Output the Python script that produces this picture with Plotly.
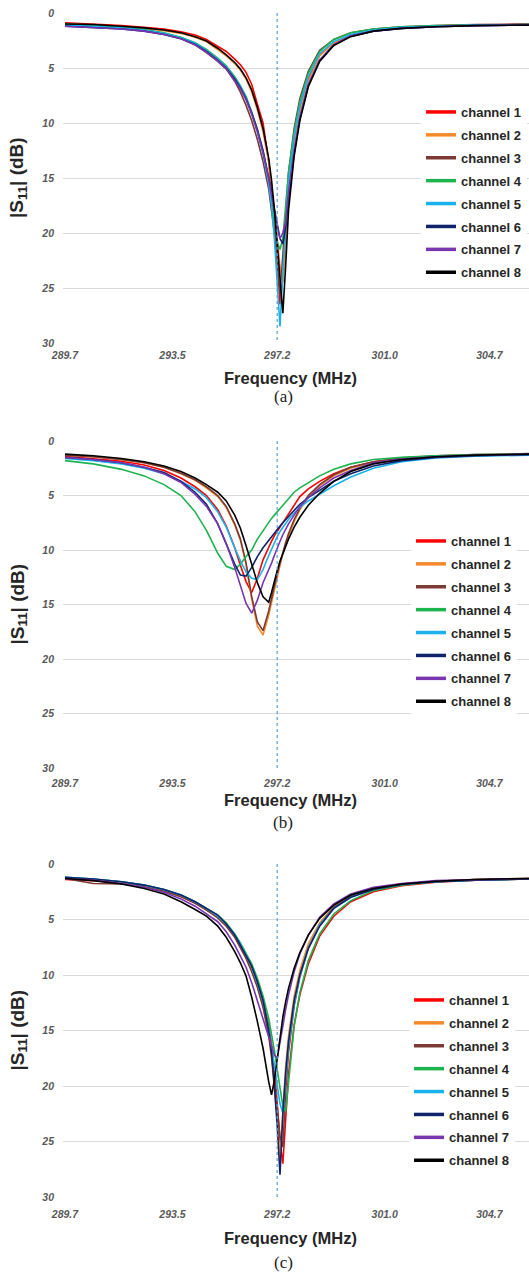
import plotly.graph_objects as go

# ---------------- data ----------------
FREQ = [289.7, 290.7, 291.7, 292.5, 293.2, 293.8, 294.3, 294.7, 295.1, 295.4,
        295.7, 295.9, 296.1, 296.3, 296.5, 296.7, 296.9, 297.0, 297.1, 297.2,
        297.3, 297.4, 297.5, 297.6, 297.8, 298.0, 298.3, 298.7, 299.2, 299.8,
        300.6, 301.6, 302.8, 304.2, 306.1]

X_TICK_VALS = [289.7, 293.5, 297.2, 301.0, 304.7]
X_TICK_TEXT = ["289.7", "293.5", "297.2", "301.0", "304.7"]
Y_TICK_VALS = [0, 5, 10, 15, 20, 25, 30]
CHANNELS = ["channel 1", "channel 2", "channel 3", "channel 4",
            "channel 5", "channel 6", "channel 7", "channel 8"]
COLORS = ["#ff0000", "#f58a2a", "#7d3a35", "#1db34f",
          "#19b2ec", "#10246b", "#7a35b0", "#000000"]
RESONANCE_MHZ = 297.2
PANEL_CAPTIONS = ["(a)", "(b)", "(c)"]

# panel (a) |S11| in dB
A_CH1 = [0.9, 1.0, 1.15, 1.3, 1.45, 1.7, 2.0, 2.4, 3.0, 3.5, 4.2, 4.7, 5.4, 6.5, 8.3, 10.0, 13.5, 16.0, 19.0, 22.5, 26.5, 24.0, 20.5, 16.5, 11.8, 8.8, 6.0, 3.8, 2.7, 2.0, 1.6, 1.35, 1.2, 1.1, 1.0]
A_CH2 = [1.0, 1.1, 1.25, 1.4, 1.6, 1.85, 2.2, 2.6, 3.3, 3.9, 4.6, 5.2, 6.0, 7.2, 8.8, 10.8, 13.5, 15.5, 18.0, 20.5, 23.0, 24.5, 21.5, 17.0, 12.0, 8.9, 6.2, 3.9, 2.7, 2.0, 1.6, 1.35, 1.2, 1.1, 1.05]
A_CH3 = [1.1, 1.2, 1.4, 1.6, 1.9, 2.3, 2.9, 3.6, 4.4, 5.1, 6.2, 7.2, 8.4, 9.8, 11.5, 13.5, 16.0, 17.8, 20.0, 22.8, 25.5, 22.0, 18.0, 14.5, 10.5, 7.8, 5.3, 3.4, 2.4, 1.8, 1.45, 1.25, 1.15, 1.05, 1.0]
A_CH4 = [1.0, 1.1, 1.3, 1.5, 1.8, 2.2, 2.7, 3.3, 4.1, 4.8, 5.8, 6.6, 7.6, 9.0, 10.6, 12.6, 15.2, 16.8, 18.8, 20.8, 21.5, 20.5, 17.5, 14.5, 10.8, 8.1, 5.5, 3.5, 2.4, 1.8, 1.45, 1.25, 1.15, 1.1, 1.05]
A_CH5 = [1.1, 1.2, 1.35, 1.55, 1.85, 2.25, 2.75, 3.4, 4.2, 4.9, 5.9, 6.7, 7.7, 9.1, 10.8, 12.8, 15.5, 17.5, 20.5, 24.5, 28.5, 23.5, 19.0, 15.5, 11.3, 8.5, 5.8, 3.7, 2.6, 1.95, 1.55, 1.3, 1.2, 1.1, 1.05]
A_CH6 = [1.2, 1.3, 1.45, 1.65, 1.95, 2.35, 2.85, 3.5, 4.3, 5.0, 6.0, 6.8, 7.8, 9.1, 10.6, 12.5, 14.8, 16.2, 17.8, 19.3, 20.5, 21.0, 19.5, 16.8, 12.8, 9.6, 6.6, 4.3, 2.9, 2.1, 1.65, 1.4, 1.25, 1.15, 1.1]
A_CH7 = [1.2, 1.3, 1.45, 1.65, 1.95, 2.35, 2.9, 3.55, 4.35, 5.05, 6.1, 6.9, 7.9, 9.2, 10.8, 12.7, 15.0, 16.5, 18.0, 19.5, 20.5, 20.0, 19.0, 16.3, 12.5, 9.5, 6.5, 4.3, 2.9, 2.1, 1.65, 1.4, 1.25, 1.15, 1.1]
A_CH8 = [1.0, 1.05, 1.2, 1.35, 1.55, 1.8, 2.15, 2.55, 3.2, 3.8, 4.5, 5.1, 5.9, 7.0, 8.6, 10.5, 13.2, 15.2, 17.8, 20.8, 24.0, 27.3, 23.0, 18.0, 13.0, 9.8, 6.7, 4.4, 2.95, 2.15, 1.65, 1.4, 1.25, 1.15, 1.1]

# panel (b) |S11| in dB
B_CH1 = [1.4, 1.6, 1.85, 2.2, 2.7, 3.4, 4.2, 5.0, 6.3, 7.8, 9.8, 11.4, 12.9, 13.9, 12.6, 10.9, 9.7, 9.2, 8.7, 8.3, 7.9, 7.4, 7.0, 6.6, 5.8, 5.1, 4.4, 3.7, 3.0, 2.4, 1.9, 1.6, 1.4, 1.3, 1.2]
B_CH2 = [1.3, 1.45, 1.7, 2.0, 2.4, 3.0, 3.6, 4.3, 5.1, 6.1, 7.7, 9.1, 11.3, 14.5, 17.0, 17.8, 16.0, 14.8, 13.6, 12.5, 11.4, 10.4, 9.5, 8.7, 7.4, 6.3, 5.1, 4.1, 3.2, 2.5, 1.95, 1.6, 1.4, 1.3, 1.2]
B_CH3 = [1.3, 1.45, 1.7, 2.0, 2.4, 2.95, 3.55, 4.2, 5.0, 6.0, 7.6, 9.0, 11.2, 14.3, 16.6, 17.4, 15.6, 14.4, 13.2, 12.2, 11.2, 10.2, 9.3, 8.5, 7.2, 6.2, 5.0, 4.0, 3.1, 2.4, 1.9, 1.55, 1.35, 1.25, 1.15]
B_CH4 = [1.8, 2.1, 2.6, 3.2, 4.0, 5.0, 6.5, 8.2, 10.3, 11.5, 11.8, 11.3, 10.6, 10.0, 9.0, 8.2, 7.5, 7.1, 6.8, 6.5, 6.1, 5.8, 5.5, 5.2, 4.7, 4.3, 3.8, 3.2, 2.6, 2.1, 1.7, 1.5, 1.35, 1.25, 1.2]
B_CH5 = [1.6, 1.8, 2.1, 2.5, 3.0, 3.7, 4.4, 5.2, 6.5, 7.9, 9.8, 11.0, 12.0, 12.6, 12.7, 11.8, 10.5, 9.9, 9.3, 8.8, 8.3, 7.9, 7.5, 7.2, 6.6, 6.1, 5.5, 4.9, 4.1, 3.3, 2.5, 1.9, 1.55, 1.4, 1.3]
B_CH6 = [1.5, 1.7, 2.0, 2.4, 2.9, 3.7, 4.7, 5.8, 7.6, 9.5, 11.3, 12.3, 12.4, 11.6, 10.6, 9.8, 9.1, 8.8, 8.4, 8.1, 7.8, 7.5, 7.2, 6.9, 6.3, 5.8, 5.2, 4.5, 3.7, 3.0, 2.3, 1.8, 1.5, 1.35, 1.25]
B_CH7 = [1.5, 1.7, 2.0, 2.4, 3.0, 3.8, 4.9, 6.0, 7.6, 9.4, 11.6, 13.3, 14.9, 15.8, 14.6, 13.0, 11.9, 11.2, 10.5, 9.8, 9.2, 8.6, 8.1, 7.6, 6.8, 6.0, 5.2, 4.3, 3.4, 2.7, 2.0, 1.65, 1.45, 1.3, 1.2]
B_CH8 = [1.2, 1.35, 1.6, 1.9, 2.3, 2.8, 3.4, 4.0, 4.7, 5.5, 6.8, 8.0, 9.6, 11.3, 13.0, 14.3, 14.8, 13.9, 12.8, 11.9, 11.0, 10.3, 9.7, 9.0, 7.9, 7.0, 5.9, 4.8, 3.7, 2.8, 2.1, 1.7, 1.45, 1.3, 1.2]

# panel (c) |S11| in dB
C_CH1 = [1.4, 1.5, 1.7, 2.0, 2.4, 2.9, 3.5, 4.1, 4.8, 5.5, 6.5, 7.3, 8.2, 9.3, 10.6, 12.2, 14.5, 16.2, 18.5, 21.5, 25.0, 27.0, 22.5, 19.0, 14.5, 11.8, 9.0, 6.5, 4.7, 3.4, 2.5, 1.95, 1.65, 1.45, 1.35]
C_CH2 = [1.3, 1.45, 1.7, 2.0, 2.4, 2.9, 3.5, 4.1, 4.8, 5.5, 6.5, 7.4, 8.4, 9.6, 11.0, 12.8, 15.5, 17.5, 20.0, 23.0, 26.5, 22.0, 18.2, 15.5, 11.9, 9.6, 7.2, 5.3, 3.8, 2.9, 2.2, 1.8, 1.55, 1.4, 1.3]
C_CH3 = [1.3, 1.75, 1.8, 2.05, 2.45, 2.95, 3.55, 4.15, 4.85, 5.6, 6.6, 7.5, 8.5, 9.7, 11.1, 12.9, 15.4, 17.2, 19.4, 22.0, 24.5, 25.5, 20.5, 17.0, 12.8, 10.2, 7.6, 5.5, 3.9, 2.9, 2.2, 1.8, 1.55, 1.4, 1.3]
C_CH4 = [1.2, 1.35, 1.6, 1.9, 2.3, 2.8, 3.4, 4.0, 4.6, 5.3, 6.3, 7.1, 8.0, 9.0, 10.3, 11.9, 13.9, 15.2, 16.8, 18.5, 20.3, 21.8, 22.3, 19.5, 14.6, 11.6, 8.7, 6.3, 4.5, 3.3, 2.4, 1.9, 1.6, 1.45, 1.35]
C_CH5 = [1.2, 1.35, 1.6, 1.9, 2.3, 2.8, 3.4, 4.0, 4.7, 5.4, 6.4, 7.2, 8.2, 9.3, 10.7, 12.4, 14.8, 16.4, 18.2, 20.0, 21.6, 22.4, 19.2, 16.4, 12.6, 10.1, 7.6, 5.5, 4.0, 3.0, 2.25, 1.85, 1.6, 1.45, 1.35]
C_CH6 = [1.2, 1.35, 1.6, 1.9, 2.3, 2.8, 3.4, 4.0, 4.6, 5.4, 6.4, 7.3, 8.2, 9.2, 10.6, 12.3, 15.0, 17.0, 20.0, 23.5, 28.0, 22.5, 18.8, 16.0, 12.3, 10.0, 7.6, 5.6, 4.0, 3.0, 2.3, 1.85, 1.6, 1.45, 1.35]
C_CH7 = [1.3, 1.45, 1.75, 2.1, 2.55, 3.15, 3.8, 4.5, 5.2, 6.1, 7.3, 8.3, 9.3, 10.7, 12.3, 14.0, 15.6, 16.5, 17.2, 17.5, 16.2, 14.6, 13.1, 11.8, 9.7, 8.1, 6.4, 4.8, 3.6, 2.7, 2.1, 1.75, 1.5, 1.4, 1.3]
C_CH8 = [1.3, 1.5, 1.8, 2.2, 2.7, 3.4, 4.1, 4.7, 5.6, 6.6, 7.9, 8.9, 10.1, 12.0, 14.2, 16.6, 19.6, 20.8, 19.5, 17.5, 15.5, 13.8, 12.4, 11.2, 9.4, 8.0, 6.4, 4.9, 3.7, 2.8, 2.2, 1.8, 1.55, 1.4, 1.3]

PANEL_DATA = [
    [A_CH1, A_CH2, A_CH3, A_CH4, A_CH5, A_CH6, A_CH7, A_CH8],
    [B_CH1, B_CH2, B_CH3, B_CH4, B_CH5, B_CH6, B_CH7, B_CH8],
    [C_CH1, C_CH2, C_CH3, C_CH4, C_CH5, C_CH6, C_CH7, C_CH8],
]

# ---------------- layout geometry (pixels) ----------------
W, H = 529, 1278
PLOT_LEFT = 63


def fy(px):
    return 1 - px / H


def fx(px):
    return px / W


PANELS = [
    dict(top=13, bottom=343, xtitle=378, cap=397, leg_left=421, leg_top=97,
         cover=(385, 97, 297), xstand=4),
    dict(top=441, bottom=768, xtitle=800, cap=822, leg_left=411, leg_top=526,
         cover=(375, 527, 722), xstand=7),
    dict(top=864, bottom=1197, xtitle=1238, cap=1262, leg_left=409, leg_top=985,
         cover=(375, 985, 1150), xstand=9),
]

FONT = "Liberation Sans"
tick_font = dict(family=FONT, size=10.5, color="#595959", style="italic", weight="bold")

fig = go.Figure()
layout = dict(
    width=W, height=H,
    margin=dict(l=0, r=0, t=0, b=0, autoexpand=False),
    paper_bgcolor="white", plot_bgcolor="white",
    showlegend=True,
    shapes=[], annotations=[],
)

for p, (panel, series) in enumerate(zip(PANELS, PANEL_DATA)):
    s = "" if p == 0 else str(p + 1)
    legname = "legend" if p == 0 else f"legend{p + 1}"
    for k, (name, color, vals) in enumerate(zip(CHANNELS, COLORS, series)):
        grp = f"p{p}c{k}"
        fig.add_trace(go.Scatter(
            x=FREQ, y=vals, mode="lines", name=name,
            line=dict(color=color, width=1.6),
            xaxis="x" + s, yaxis="y" + s,
            legend=legname, legendgroup=grp, showlegend=False,
        ))
        # legend swatch (thicker line, same group)
        fig.add_trace(go.Scatter(
            x=[None], y=[None], mode="lines", name=name,
            line=dict(color=color, width=3.5),
            xaxis="x" + s, yaxis="y" + s,
            legend=legname, legendgroup=grp, showlegend=True,
        ))

    layout["xaxis" + s] = dict(
        domain=[fx(PLOT_LEFT), 1], range=[289.63, 306.1], automargin=False,
        anchor="y" + s, showgrid=False, zeroline=False, showline=False,
        tickmode="array", tickvals=X_TICK_VALS, ticktext=X_TICK_TEXT,
        ticks="", tickfont=tick_font, ticklabelstandoff=panel["xstand"],
    )
    layout["yaxis" + s] = dict(
        domain=[fy(panel["bottom"]), fy(panel["top"])], range=[30, 0],
        automargin=False,
        anchor="x" + s, showgrid=True, gridcolor="#d9d9d9", gridwidth=1,
        zeroline=False, showline=False,
        tickmode="array", tickvals=Y_TICK_VALS, ticks="",
        tickfont=tick_font, ticklabelstandoff=8,
    )
    layout[legname] = dict(
        x=fx(panel["leg_left"]), y=fy(panel["leg_top"]),
        xanchor="left", yanchor="top", bgcolor="white", borderwidth=0,
        font=dict(family=FONT, size=13, color="#262626", weight="bold"),
        tracegroupgap=3, traceorder="grouped",
    )
    # white legend panel hiding gridlines
    cx, cy0, cy1 = panel["cover"]
    layout["shapes"].append(dict(
        type="rect", xref="paper", yref="paper", layer="between",
        x0=fx(cx), x1=1, y0=fy(cy1), y1=fy(cy0),
        fillcolor="white", line=dict(width=0),
    ))
    # dotted resonance marker
    layout["shapes"].append(dict(
        type="line", xref="x" + s, yref="y" + s,
        x0=RESONANCE_MHZ, x1=RESONANCE_MHZ, y0=0, y1=30,
        line=dict(color="#5b9bd5", width=1.2, dash="dot"),
    ))
    # axis titles and caption
    layout["annotations"].append(dict(
        text="Frequency (MHz)", xref="paper", yref="paper",
        x=fx(290), y=fy(panel["xtitle"]), showarrow=False,
        xanchor="center", yanchor="middle",
        font=dict(family=FONT, size=16.5, color="#262626", weight="bold"),
    ))
    layout["annotations"].append(dict(
        text="|S<sub>11</sub>| (dB)", xref="paper", yref="paper",
        x=fx(18), y=fy((panel["top"] + panel["bottom"]) / 2), showarrow=False,
        textangle=-90, xanchor="center", yanchor="middle",
        font=dict(family=FONT, size=19, color="#262626", weight="bold"),
    ))
    layout["annotations"].append(dict(
        text=PANEL_CAPTIONS[p], xref="paper", yref="paper",
        x=fx(283), y=fy(panel["cap"]), showarrow=False,
        xanchor="center", yanchor="middle",
        font=dict(family="Liberation Serif", size=17, color="#222222"),
    ))

fig.update_layout(**layout)
fig.write_html("out.html")
